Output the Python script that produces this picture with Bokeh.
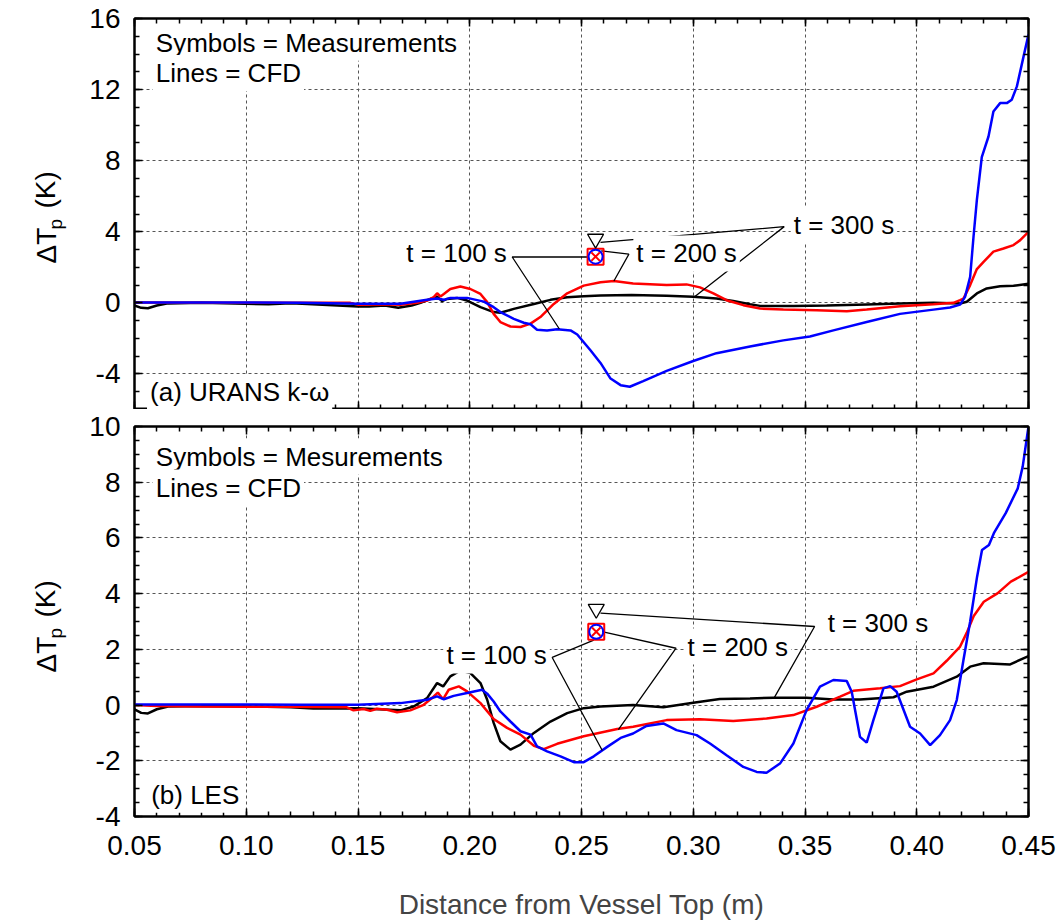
import numpy as np
from bokeh.plotting import figure
from bokeh.models import FixedTicker, LinearAxis, Label, Range1d, NumeralTickFormatter
from bokeh.layouts import column, row
from bokeh.embed import file_html
from bokeh.resources import INLINE
from bokeh.core.properties import value

FONT = "Liberation Sans"

# ---------------- data: panel (a) URANS k-omega ----------------
a_black_x = [0.050, 0.053, 0.056, 0.060, 0.065, 0.080, 0.100, 0.110, 0.120, 0.125, 0.150, 0.155, 0.162, 0.168,
             0.174, 0.178, 0.1824, 0.1854, 0.1876, 0.1899, 0.1943, 0.1988, 0.2048, 0.2107, 0.2137, 0.2197,
             0.2287, 0.2361, 0.2436, 0.251, 0.2585, 0.2724, 0.2881, 0.300, 0.3104, 0.3179, 0.3254, 0.3299,
             0.3448, 0.3597, 0.3776, 0.3925, 0.4075, 0.4194, 0.4224, 0.4269, 0.4313, 0.4373, 0.4433, 0.450]
a_black_y = [-0.15, -0.28, -0.30, -0.15, -0.03, 0.0, -0.05, -0.08, -0.02, -0.05, -0.2, -0.2, -0.15, -0.28,
             -0.15, 0.0, 0.22, 0.35, 0.10, 0.22, 0.28, 0.13, -0.24, -0.52, -0.56, -0.34,
             -0.06, 0.17, 0.32, 0.37, 0.41, 0.44, 0.40, 0.34, 0.25, 0.11, -0.08, -0.17,
             -0.17, -0.15, -0.09, -0.04, 0.0, -0.04, 0.06, 0.53, 0.81, 0.94, 0.96, 1.08]

a_red_x = [0.050, 0.100, 0.120, 0.1466, 0.150, 0.1616, 0.169, 0.1764, 0.1809, 0.1839, 0.1854, 0.1869, 0.1884,
           0.1913, 0.1958, 0.2003, 0.2048, 0.2078, 0.2107, 0.2137, 0.2182, 0.2227, 0.2272, 0.2316, 0.2376,
           0.2436, 0.2510, 0.2585, 0.2645, 0.2731, 0.2881, 0.297, 0.303, 0.309, 0.3149, 0.3224, 0.3299,
           0.3403, 0.3552, 0.3687, 0.3776, 0.3925, 0.4075, 0.4164, 0.4194, 0.4209, 0.4239, 0.4269, 0.4299,
           0.4343, 0.4388, 0.4433, 0.4463, 0.450]
a_red_y = [0.02, 0.0, 0.0, 0.0, -0.1, -0.08, -0.1, 0.0, 0.13, 0.32, 0.54, 0.36, 0.5,
           0.78, 0.92, 0.78, 0.5, 0.04, -0.62, -1.08, -1.33, -1.36, -1.17, -0.8, -0.06,
           0.54, 0.97, 1.16, 1.23, 1.09, 1.0, 1.04, 0.87, 0.53, 0.15, -0.13, -0.32,
           -0.38, -0.42, -0.47, -0.38, -0.19, -0.08, 0.0, 0.15, 0.24, 1.0, 1.9, 2.31,
           2.88, 3.06, 3.25, 3.53, 4.0]

a_blue_x = [0.050, 0.100, 0.1242, 0.150, 0.169, 0.1809, 0.1854, 0.1884, 0.1913, 0.1988, 0.2063, 0.2107, 0.2137,
            0.2197, 0.2242, 0.2272, 0.2301, 0.2346, 0.2391, 0.2451, 0.2481, 0.254, 0.2585, 0.263, 0.2675,
            0.2716, 0.2776, 0.2881, 0.300, 0.3104, 0.3254, 0.3403, 0.3522, 0.3627, 0.3776, 0.3925, 0.4075,
            0.4149, 0.4194, 0.4216, 0.4239, 0.4254, 0.4269, 0.4291, 0.4321, 0.4343, 0.4373, 0.4403, 0.4425,
            0.4448, 0.4478, 0.450]
a_blue_y = [0.02, 0.02, 0.0, -0.05, -0.05, 0.17, 0.25, 0.17, 0.28, 0.28, 0.07, -0.24, -0.52,
            -0.9, -1.12, -1.2, -1.51, -1.55, -1.48, -1.55, -1.78, -2.67, -3.38, -4.26, -4.63,
            -4.72, -4.4, -3.83, -3.27, -2.83, -2.45, -2.11, -1.89, -1.55, -1.08, -0.62, -0.38,
            -0.26, -0.1, 0.34, 1.47, 3.72, 5.8, 8.2, 9.36, 10.77, 11.24, 11.24, 11.43,
            12.18, 13.87, 15.1]

# measurements (a)
a_meas_x = 0.2563
a_meas_100 = 2.6   # blue circle
a_meas_200 = 2.6   # red square / cross
a_meas_300 = 3.6   # black triangle

# ---------------- data: panel (b) LES ----------------
b_black_x = [0.050, 0.053, 0.056, 0.060, 0.065, 0.080, 0.100, 0.120, 0.130, 0.150, 0.169, 0.1749, 0.1809,
             0.1854, 0.1881, 0.1913, 0.1958, 0.2003, 0.2048, 0.2078, 0.2107, 0.2137, 0.2182, 0.2227, 0.2287,
             0.2361, 0.2436, 0.251, 0.2585, 0.2731, 0.2866, 0.300, 0.3119, 0.3254, 0.3358, 0.3507, 0.3627,
             0.3746, 0.3896, 0.3955, 0.4075, 0.4179, 0.4239, 0.4299, 0.4418, 0.450]
b_black_y = [-0.15, -0.28, -0.30, -0.15, -0.05, -0.03, -0.05, -0.08, -0.12, -0.11, -0.19, -0.05, 0.25,
             0.79, 0.67, 1.03, 1.24, 1.15, 0.79, 0.19, -0.64, -1.3, -1.6, -1.42, -1.0,
             -0.59, -0.29, -0.11, -0.05, 0.0, -0.08, 0.08, 0.22, 0.24, 0.26, 0.26, 0.2,
             0.2, 0.28, 0.48, 0.66, 1.02, 1.38, 1.5, 1.46, 1.76]

b_red_x = [0.050, 0.060, 0.080, 0.100, 0.120, 0.145, 0.148, 0.1525, 0.1555, 0.1585, 0.163, 0.1675, 0.1734,
           0.1794, 0.1839, 0.1857, 0.1881, 0.1906, 0.1951, 0.1988, 0.2048, 0.2107, 0.2167, 0.2227, 0.2287,
           0.2331, 0.2391, 0.251, 0.266, 0.2731, 0.2881, 0.303, 0.3179, 0.3328, 0.3448, 0.3552, 0.3657,
           0.3716, 0.3836, 0.3925, 0.400, 0.4075, 0.4134, 0.4194, 0.4224, 0.4255, 0.430, 0.4361, 0.4421, 0.450]
b_red_y = [0.0, -0.03, -0.05, -0.06, -0.06, -0.08, -0.19, -0.14, -0.21, -0.13, -0.17, -0.26, -0.19,
           0.01, 0.31, 0.45, 0.21, 0.55, 0.67, 0.49, 0.07, -0.5, -0.82, -1.06, -1.46,
           -1.58, -1.39, -1.12, -0.86, -0.78, -0.54, -0.51, -0.57, -0.48, -0.36, -0.06, 0.3,
           0.51, 0.6, 0.68, 0.92, 1.14, 1.59, 2.1, 2.6, 3.2, 3.71, 4.01, 4.43, 4.78]

b_blue_x = [0.050, 0.100, 0.1242, 0.150, 0.169, 0.1809, 0.1854, 0.1884, 0.1928, 0.1988, 0.2055, 0.2078, 0.2107,
            0.2137, 0.2182, 0.2227, 0.2272, 0.2301, 0.2346, 0.2406, 0.2466, 0.2510, 0.2555, 0.2615, 0.2675,
            0.2731, 0.2791, 0.2866, 0.2925, 0.3015, 0.3075, 0.3149, 0.3224, 0.3284, 0.3328, 0.3388, 0.3448,
            0.3507, 0.3567, 0.3627, 0.3687, 0.3709, 0.3746, 0.3776, 0.3806, 0.3851, 0.3881, 0.391, 0.397,
            0.4015, 0.406, 0.4104, 0.4149, 0.4179, 0.4209, 0.4239, 0.427, 0.4292, 0.4323, 0.4345, 0.4398,
            0.4452, 0.4474, 0.450]
b_blue_y = [0.02, 0.02, 0.01, 0.01, 0.07, 0.19, 0.31, 0.21, 0.33, 0.43, 0.55, 0.41, 0.13,
            -0.23, -0.59, -0.94, -1.06, -1.48, -1.66, -1.84, -2.05, -2.05, -1.84, -1.5, -1.18,
            -1.02, -0.75, -0.66, -0.9, -1.08, -1.38, -1.8, -2.22, -2.4, -2.43, -2.1, -1.38,
            -0.18, 0.66, 0.9, 0.86, 0.48, -1.14, -1.35, -0.54, 0.6, 0.68, 0.48, -0.78,
            -1.02, -1.44, -1.08, -0.54, 0.18, 1.62, 3.0, 4.61, 5.57, 5.75, 6.17, 6.89,
            7.78, 8.56, 10.0]

b_meas_x = 0.2566
b_meas_100 = 2.63
b_meas_200 = 2.63
b_meas_300 = 3.45

# tick definitions
x_major = [0.05, 0.10, 0.15, 0.20, 0.25, 0.30, 0.35, 0.40, 0.45]
x_minor = [round(0.05 + 0.01 * i, 2) for i in range(41)]
a_yticks = [-4, 0, 4, 8, 12, 16]
a_yminor = list(range(-6, 17))
b_yticks = [-4, -2, 0, 2, 4, 6, 8, 10]
b_yminor = [v * 0.5 for v in range(-8, 21)]

# annotation leaders: [marker end, vertex, curve end], label anchor
a_lead = {
    "t = 100 s": ([0.2530, 0.2190, 0.2401], [2.58, 2.58, -1.47], (0.1703, 2.78)),
    "t = 200 s": ([0.2588, 0.2712, 0.2645], [2.93, 2.74, 1.23], (0.2732, 2.78)),
    "t = 300 s": ([0.2585, 0.3407, 0.3006], [3.40, 4.29, 0.34], (0.3436, 4.39)),
}
b_lead = {
    "t = 100 s": ([0.2555, 0.2369, 0.2593], [2.33, 1.71, -1.63], (0.1882, 1.78)),
    "t = 200 s": ([0.2592, 0.2923, 0.2665], [2.64, 2.04, -0.88], (0.2961, 2.10)),
    "t = 300 s": ([0.2585, 0.3543, 0.3362], [3.30, 2.82, 0.26], (0.3588, 2.94)),
}

LW = 70          # width of the y-label strip
TOP_H = 409
BOT_H = 513


def make_fig(height, ylo, yhi, yticks, yminor, btop, bbot, show_x):
    p = figure(width=1061 - LW, height=height, x_range=Range1d(0.05, 0.45), y_range=Range1d(ylo, yhi),
               output_backend="svg", toolbar_location=None,
               min_border_left=134 - LW, min_border_right=33, min_border_top=btop, min_border_bottom=bbot)
    p.background_fill_color = "white"
    p.border_fill_color = "white"
    p.outline_line_color = "black"
    p.outline_line_width = 2
    xt = FixedTicker(ticks=x_major, minor_ticks=x_minor)
    yt = FixedTicker(ticks=yticks, minor_ticks=yminor)
    p.xaxis.ticker = xt
    p.yaxis.ticker = yt
    p.xgrid.ticker = xt
    p.ygrid.ticker = yt
    p.add_layout(LinearAxis(ticker=xt), "above")
    p.add_layout(LinearAxis(ticker=yt), "right")
    for ax in p.axis:
        ax.major_tick_in = 8
        ax.major_tick_out = 0
        ax.minor_tick_in = 5
        ax.minor_tick_out = 0
        ax.major_tick_line_width = 1.5
        ax.minor_tick_line_width = 1.5
        ax.axis_line_width = 2
        ax.major_label_text_font = FONT
        ax.major_label_text_font_size = "0px"
        ax.major_label_text_color = None
        ax.major_label_standoff = 0
    ya = p.left[0]
    ya.major_label_text_font_size = "28px"
    ya.major_label_text_color = "black"
    ya.major_label_standoff = 14
    ya.formatter = NumeralTickFormatter(format="0")
    if show_x:
        ax = p.below[0]
        ax.major_label_text_font_size = "28px"
        ax.major_label_text_color = "black"
        ax.major_label_standoff = 19
        ax.formatter = NumeralTickFormatter(format="0.00")
        ax.axis_label = "Distance from Vessel Top (m)"
        ax.axis_label_text_font = FONT
        ax.axis_label_text_font_size = "28px"
        ax.axis_label_text_font_style = "normal"
        ax.axis_label_standoff = 31
    p.grid.grid_line_color = "#555555"
    p.grid.grid_line_dash = "3 3"
    p.grid.grid_line_width = 1
    return p


def make_ylabel(height):
    q = figure(width=LW, height=height, x_range=Range1d(0, LW), y_range=Range1d(height, 0),
               output_backend="svg", toolbar_location=None, x_axis_location=None, y_axis_location=None,
               min_border=0)
    q.outline_line_color = None
    q.grid.visible = False
    q.border_fill_color = "white"
    q.background_fill_color = "white"
    q.text(x=[46], y=[263], text=["\u0394T"], angle=np.pi / 2, text_align="left",
           text_baseline="alphabetic", text_font=value(FONT), text_font_size="28px", text_color="black")
    q.text(x=[55], y=[229], text=["p"], angle=np.pi / 2, text_align="left",
           text_baseline="alphabetic", text_font=value(FONT), text_font_size="19px", text_color="black")
    q.text(x=[45], y=[208], text=["(K)"], angle=np.pi / 2, text_align="left",
           text_baseline="alphabetic", text_font=value(FONT), text_font_size="28px", text_color="black")
    return q


def add_text(p, x, y, txt, size="26px"):
    p.add_layout(Label(x=x, y=y, text=txt, text_align="left", text_baseline="middle", text_font=FONT,
                       text_font_size=size, text_color="black",
                       background_fill_color="white", padding=3))


def draw_panel(p, bx, by, rx, ry, ux, uy, mx, m100, m200, m300, leads):
    p.line(bx, by, line_color="black", line_width=2.5)
    p.line(rx, ry, line_color="#ff0000", line_width=2.5)
    p.line(ux, uy, line_color="#0000ff", line_width=2.5)
    for name, (lx, ly, (tx, ty)) in leads.items():
        p.line(lx, ly, line_color="black", line_width=1.3)
    p.scatter([mx], [m200], marker="square", size=16, fill_color=None, line_color="#ff0000", line_width=2)
    p.scatter([mx], [m100], marker="circle", size=14, fill_color=None, line_color="#0000ff", line_width=2)
    p.scatter([mx], [m200], marker="x", size=12, line_color="#ff0000", line_width=2)
    p.scatter([mx], [m300], marker="inverted_triangle", size=16, fill_color=None, line_color="black",
              line_width=1.3)
    for name, (lx, ly, (tx, ty)) in leads.items():
        add_text(p, tx, ty, name)


p1 = make_fig(TOP_H, -6, 16, a_yticks, a_yminor, 18, 0, False)
draw_panel(p1, a_black_x, a_black_y, a_red_x, a_red_y, a_blue_x, a_blue_y,
           a_meas_x, a_meas_100, a_meas_200, a_meas_300, a_lead)
add_text(p1, 0.0582, 14.63, "Symbols = Measurements")
add_text(p1, 0.0582, 12.94, "Lines = CFD")
add_text(p1, 0.0556, -5.03, "(a) URANS k-\u03c9")

p2 = make_fig(BOT_H, -4, 10, b_yticks, b_yminor, 17, 105, True)
draw_panel(p2, b_black_x, b_black_y, b_red_x, b_red_y, b_blue_x, b_blue_y,
           b_meas_x, b_meas_100, b_meas_200, b_meas_300, b_lead)
add_text(p2, 0.0582, 8.92, "Symbols = Mesurements")
add_text(p2, 0.0582, 7.81, "Lines = CFD")
add_text(p2, 0.0561, -3.22, "(b) LES")

l1 = make_ylabel(TOP_H)
l2 = make_ylabel(BOT_H)

layout = row(column(l1, l2, spacing=0), column(p1, p2, spacing=0), spacing=0)
open("out.html", "w").write(file_html(layout, INLINE))
